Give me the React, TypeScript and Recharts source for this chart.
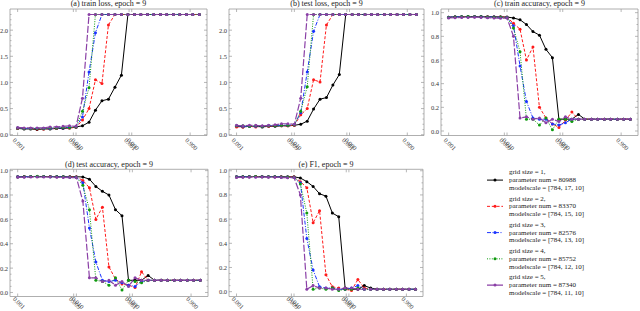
import React from "react";
import { LineChart, Line, XAxis, YAxis, ReferenceArea } from "recharts";

// learning-rate style x values (log spaced)
const xValues = [0.001, 0.00129, 0.00167, 0.00215, 0.00278, 0.00359, 0.00464, 0.00599, 0.00774, 0.01, 0.0129, 0.0167, 0.0215, 0.0278, 0.0359, 0.0464, 0.0599, 0.0774, 0.1, 0.129, 0.167, 0.215, 0.278, 0.359, 0.464, 0.599, 0.774, 1.0, 1.29];
const xTickValues = [0.001, 0.009, 0.01, 0.081, 0.09, 0.9];

const gridSizes = [1, 2, 3, 4, 5];
const paramNums = [80988, 83370, 82576, 85752, 87340];
const modelScales = ["[784, 17, 10]", "[784, 15, 10]", "[784, 13, 10]", "[784, 12, 10]", "[784, 11, 10]"];

const titles = ["(a) train loss, epoch = 9", "(b) test loss, epoch = 9", "(c) train accuracy, epoch = 9", "(d) test accuracy, epoch = 9", "(e) F1, epoch = 9"];

// (a) train loss
const trainLoss1 = [0.12, 0.11, 0.11, 0.10, 0.11, 0.11, 0.12, 0.12, 0.13, 0.15, 0.17, 0.24, 0.47, 0.65, 0.68, 0.91, 1.14, 2.30, 2.30, 2.30, 2.30, 2.30, 2.30, 2.30, 2.30, 2.30, 2.30, 2.30, 2.30];
const trainLoss2 = [0.12, 0.12, 0.12, 0.11, 0.11, 0.12, 0.12, 0.13, 0.13, 0.14, 0.28, 0.50, 1.05, 0.98, 2.10, 2.30, 2.30, 2.30, 2.30, 2.30, 2.30, 2.30, 2.30, 2.30, 2.30, 2.30, 2.30, 2.30, 2.30];
const trainLoss3 = [0.13, 0.12, 0.12, 0.12, 0.12, 0.12, 0.13, 0.13, 0.14, 0.15, 0.34, 1.20, 1.95, 2.30, 2.30, 2.30, 2.30, 2.30, 2.30, 2.30, 2.30, 2.30, 2.30, 2.30, 2.30, 2.30, 2.30, 2.30, 2.30];
const trainLoss4 = [0.13, 0.12, 0.12, 0.12, 0.12, 0.13, 0.13, 0.14, 0.14, 0.15, 0.45, 0.90, 2.30, 2.30, 2.30, 2.30, 2.30, 2.30, 2.30, 2.30, 2.30, 2.30, 2.30, 2.30, 2.30, 2.30, 2.30, 2.30, 2.30];
const trainLoss5 = [0.14, 0.13, 0.13, 0.13, 0.13, 0.15, 0.15, 0.16, 0.17, 0.16, 0.70, 2.30, 2.30, 2.30, 2.30, 2.30, 2.30, 2.30, 2.30, 2.30, 2.30, 2.30, 2.30, 2.30, 2.30, 2.30, 2.30, 2.30, 2.30];

// (b) test loss
const testLoss1 = [0.16, 0.15, 0.16, 0.16, 0.15, 0.16, 0.16, 0.17, 0.17, 0.18, 0.20, 0.26, 0.49, 0.68, 0.71, 0.95, 1.15, 2.30, 2.30, 2.30, 2.30, 2.30, 2.30, 2.30, 2.30, 2.30, 2.30, 2.30, 2.30];
const testLoss2 = [0.15, 0.15, 0.16, 0.15, 0.16, 0.16, 0.17, 0.17, 0.17, 0.18, 0.38, 0.50, 1.05, 1.01, 2.10, 2.30, 2.30, 2.30, 2.30, 2.30, 2.30, 2.30, 2.30, 2.30, 2.30, 2.30, 2.30, 2.30, 2.30];
const testLoss3 = [0.17, 0.16, 0.16, 0.16, 0.16, 0.17, 0.17, 0.18, 0.18, 0.19, 0.42, 1.20, 1.98, 2.30, 2.30, 2.30, 2.30, 2.30, 2.30, 2.30, 2.30, 2.30, 2.30, 2.30, 2.30, 2.30, 2.30, 2.30, 2.30];
const testLoss4 = [0.17, 0.17, 0.16, 0.17, 0.16, 0.17, 0.17, 0.18, 0.18, 0.19, 0.45, 0.92, 2.30, 2.30, 2.30, 2.30, 2.30, 2.30, 2.30, 2.30, 2.30, 2.30, 2.30, 2.30, 2.30, 2.30, 2.30, 2.30, 2.30];
const testLoss5 = [0.18, 0.17, 0.18, 0.18, 0.17, 0.18, 0.19, 0.21, 0.21, 0.20, 0.70, 2.30, 2.30, 2.30, 2.30, 2.30, 2.30, 2.30, 2.30, 2.30, 2.30, 2.30, 2.30, 2.30, 2.30, 2.30, 2.30, 2.30, 2.30];

// (c) train accuracy
const trainAcc1 = [0.962, 0.965, 0.966, 0.967, 0.967, 0.967, 0.966, 0.965, 0.965, 0.963, 0.955, 0.94, 0.90, 0.84, 0.81, 0.69, 0.62, 0.10, 0.10, 0.10, 0.14, 0.10, 0.10, 0.10, 0.10, 0.10, 0.10, 0.10, 0.10];
const trainAcc2 = [0.962, 0.964, 0.965, 0.966, 0.966, 0.966, 0.965, 0.964, 0.963, 0.962, 0.91, 0.86, 0.60, 0.71, 0.20, 0.11, 0.06, 0.03, 0.09, 0.16, 0.10, 0.10, 0.10, 0.10, 0.10, 0.10, 0.10, 0.10, 0.10];
const trainAcc3 = [0.962, 0.964, 0.965, 0.965, 0.966, 0.965, 0.964, 0.963, 0.962, 0.960, 0.89, 0.55, 0.25, 0.11, 0.10, 0.10, 0.06, 0.05, 0.07, 0.10, 0.10, 0.10, 0.10, 0.10, 0.10, 0.10, 0.10, 0.10, 0.10];
const trainAcc4 = [0.960, 0.963, 0.965, 0.968, 0.966, 0.965, 0.964, 0.962, 0.961, 0.958, 0.87, 0.67, 0.10, 0.10, 0.05, 0.11, 0.01, 0.10, 0.10, 0.08, 0.10, 0.10, 0.10, 0.10, 0.10, 0.10, 0.10, 0.10, 0.10];
const trainAcc5 = [0.955, 0.958, 0.960, 0.960, 0.962, 0.960, 0.958, 0.955, 0.952, 0.955, 0.80, 0.11, 0.12, 0.10, 0.11, 0.07, 0.10, 0.08, 0.12, 0.10, 0.10, 0.10, 0.10, 0.10, 0.10, 0.10, 0.10, 0.10, 0.10];

// (d) test accuracy
const testAcc1 = [0.950, 0.951, 0.952, 0.952, 0.952, 0.951, 0.951, 0.950, 0.950, 0.950, 0.948, 0.93, 0.87, 0.83, 0.80, 0.68, 0.63, 0.10, 0.10, 0.10, 0.14, 0.10, 0.10, 0.10, 0.10, 0.10, 0.10, 0.10, 0.10];
const testAcc2 = [0.950, 0.951, 0.951, 0.952, 0.951, 0.951, 0.950, 0.950, 0.949, 0.948, 0.92, 0.86, 0.60, 0.70, 0.21, 0.11, 0.07, 0.06, 0.04, 0.17, 0.10, 0.10, 0.10, 0.10, 0.10, 0.10, 0.10, 0.10, 0.10];
const testAcc3 = [0.950, 0.950, 0.951, 0.951, 0.951, 0.950, 0.950, 0.949, 0.948, 0.946, 0.90, 0.53, 0.25, 0.10, 0.09, 0.10, 0.08, 0.06, 0.05, 0.09, 0.10, 0.10, 0.10, 0.10, 0.10, 0.10, 0.10, 0.10, 0.10];
const testAcc4 = [0.948, 0.950, 0.951, 0.953, 0.951, 0.950, 0.950, 0.949, 0.948, 0.946, 0.88, 0.68, 0.10, 0.09, 0.06, 0.12, 0.02, 0.10, 0.09, 0.08, 0.10, 0.10, 0.10, 0.10, 0.10, 0.10, 0.10, 0.10, 0.10];
const testAcc5 = [0.945, 0.946, 0.947, 0.947, 0.948, 0.947, 0.946, 0.944, 0.943, 0.944, 0.75, 0.12, 0.12, 0.09, 0.10, 0.06, 0.09, 0.05, 0.12, 0.10, 0.10, 0.10, 0.10, 0.10, 0.10, 0.10, 0.10, 0.10, 0.10];

// (e) F1
const f1Score1 = [0.950, 0.951, 0.952, 0.952, 0.952, 0.951, 0.951, 0.950, 0.950, 0.950, 0.94, 0.91, 0.87, 0.81, 0.79, 0.65, 0.62, 0.03, 0.02, 0.02, 0.05, 0.03, 0.02, 0.02, 0.02, 0.02, 0.02, 0.02, 0.02];
const f1Score2 = [0.950, 0.951, 0.951, 0.952, 0.951, 0.951, 0.950, 0.950, 0.949, 0.948, 0.91, 0.86, 0.57, 0.67, 0.14, 0.04, 0.03, 0.02, 0.01, 0.10, 0.03, 0.02, 0.02, 0.02, 0.02, 0.02, 0.02, 0.02, 0.02];
const f1Score3 = [0.950, 0.950, 0.951, 0.951, 0.951, 0.950, 0.950, 0.949, 0.948, 0.946, 0.90, 0.44, 0.18, 0.04, 0.03, 0.03, 0.02, 0.02, 0.03, 0.05, 0.02, 0.02, 0.02, 0.02, 0.02, 0.02, 0.02, 0.02, 0.02];
const f1Score4 = [0.948, 0.950, 0.951, 0.953, 0.951, 0.950, 0.950, 0.949, 0.948, 0.946, 0.89, 0.65, 0.02, 0.03, 0.02, 0.03, 0.01, 0.02, 0.02, 0.03, 0.02, 0.02, 0.02, 0.02, 0.02, 0.02, 0.02, 0.02, 0.02];
const f1Score5 = [0.945, 0.946, 0.947, 0.947, 0.948, 0.947, 0.946, 0.944, 0.943, 0.944, 0.80, 0.02, 0.05, 0.03, 0.03, 0.02, 0.02, 0.03, 0.03, 0.02, 0.02, 0.02, 0.02, 0.02, 0.02, 0.02, 0.02, 0.02, 0.02];

const lossMajor = [0, 0.5, 1, 1.5, 2];
const lossMinor = [0.1, 0.2, 0.3, 0.4, 0.6, 0.7, 0.8, 0.9, 1.1, 1.2, 1.3, 1.4, 1.6, 1.7, 1.8, 1.9, 2.1, 2.2, 2.3];
const accMajor = [0, 0.2, 0.4, 0.6, 0.8, 1];
const accMinor = [0.05, 0.1, 0.15, 0.25, 0.3, 0.35, 0.45, 0.5, 0.55, 0.65, 0.7, 0.75, 0.85, 0.9, 0.95];

const colors = ["#000000", "#ff1a1a", "#1a33ff", "#0f9a0f", "#8a3fa6"];
const dashes = ["", "3 1.8", "4 1.5 1 1.5", "1 1.4", "7 2"];

const FONT = "'Liberation Serif', 'Times New Roman', serif";
const xDomain: [number, number] = [0.00074, 1.75];
const FRAME = "#9a9a9a";

type PanelProps = {
  cx: number; cy: number; W: number; H: number;
  pl: number; pt: number; pw: number; ph: number;
  title: string; titleY: number; labelOffset: number;
  series: number[][];
  yDomain: [number, number];
  yMajor: number[]; yMinor: number[];
};

function Panel(p: PanelProps) {
  const data = xValues.map((x, i) => {
    const row: any = { x };
    p.series.forEach((s, k) => { row["s" + k] = s[i]; });
    return row;
  });
  const base = p.pt + p.ph;
  const XTick = (props: any) => {
    const { x, payload } = props;
    const ly = base + p.labelOffset;
    const lx = x + 1.5;
    return (
      <g>
        <line x1={x} x2={x} y1={base} y2={base - 3} stroke={FRAME} strokeWidth={0.7} />
        <line x1={x} x2={x} y1={p.pt} y2={p.pt + 3} stroke={FRAME} strokeWidth={0.7} />
        <text x={lx} y={ly} textAnchor="middle" dominantBaseline="central" transform={`rotate(45 ${lx} ${ly})`} fontSize={6.3} fontFamily={FONT} fill="#333">
          {Number(payload.value).toFixed(3)}
        </text>
      </g>
    );
  };
  const YTick = (props: any) => {
    const { y, payload } = props;
    const v = payload.value;
    const major = p.yMajor.includes(v);
    const len = major ? 3 : 1.5;
    const r = p.pl + p.pw;
    return (
      <g>
        <line x1={p.pl} x2={p.pl + len} y1={y} y2={y} stroke={FRAME} strokeWidth={0.7} />
        <line x1={r} x2={r - len} y1={y} y2={y} stroke={FRAME} strokeWidth={0.7} />
        {major && (
          <text x={p.pl - 2} y={y} textAnchor="end" dominantBaseline="central" fontSize={6.5} fontFamily={FONT} fill="#333">
            {Number(v).toFixed(1)}
          </text>
        )}
      </g>
    );
  };
  return (
    <div style={{ position: "absolute", left: p.cx, top: p.cy, width: p.W, height: p.H }}>
      <LineChart width={p.W} height={p.H} data={data} margin={{ top: p.pt, right: p.W - p.pl - p.pw, bottom: 0, left: 0 }}>
        <XAxis dataKey="x" type="number" scale="log" domain={xDomain} allowDataOverflow ticks={xTickValues} interval={0}
          height={p.H - p.pt - p.ph} axisLine={false} tickLine={false} tick={XTick} />
        <YAxis type="number" domain={p.yDomain} allowDataOverflow ticks={[...p.yMajor, ...p.yMinor]} interval={0}
          width={p.pl} axisLine={false} tickLine={false} tick={YTick} />
        <ReferenceArea x1={xDomain[0]} x2={xDomain[1]} y1={p.yDomain[0]} y2={p.yDomain[1]} fill="none" fillOpacity={0}
          stroke={FRAME} strokeWidth={0.8} ifOverflow="visible" />
        {p.series.map((_, k) => (
          <Line key={k} type="linear" dataKey={"s" + k} stroke={colors[k]} strokeWidth={k === 4 ? 1.2 : 1}
            strokeDasharray={dashes[k] || undefined} isAnimationActive={false}
            dot={(d: any) => <circle key={"d" + k + "-" + d.index} cx={d.cx} cy={d.cy} r={1.5} fill={colors[k]} />}
            activeDot={false} />
        ))}
      </LineChart>
      <div style={{ position: "absolute", left: p.pl, top: p.titleY - p.cy - 5, width: p.pw, height: 10, lineHeight: "10px",
        textAlign: "center", fontFamily: FONT, fontSize: 8, color: "#222", whiteSpace: "nowrap" }}>
        {p.title}
      </div>
    </div>
  );
}

function LegendBox() {
  const ox = 480, oy = 160;
  const lh = 7.8;
  return (
    <svg width={160} height={151} style={{ position: "absolute", left: ox, top: oy }}>
      {gridSizes.map((g, k) => {
        const y0 = 172.3 + 26.25 * k - oy;
        const lines = [`grid size = ${g},`, `parameter num = ${paramNums[k]}`, `modelscale = ${modelScales[k]}`];
        return (
          <g key={k}>
            <line x1={7} x2={23} y1={y0 + lh} y2={y0 + lh} stroke={colors[k]} strokeWidth={k === 4 ? 1.2 : 1}
              strokeDasharray={dashes[k] || undefined} />
            <circle cx={15} cy={y0 + lh} r={1.5} fill={colors[k]} />
            {lines.map((t, j) => (
              <text key={j} x={29} y={y0 + lh * j} dominantBaseline="central" fontSize={7} fontFamily={FONT} fill="#222">{t}</text>
            ))}
          </g>
        );
      })}
    </svg>
  );
}

export default function App() {
  return (
    <div style={{ position: "absolute", left: 0, top: 0, width: 640, height: 311, background: "#fff", overflow: "hidden" }}>
      <Panel cx={0} cy={0} W={218} H={160} pl={10} pt={9} pw={197} ph={126.5} title={titles[0]} titleY={4} labelOffset={8.5}
        series={[trainLoss1, trainLoss2, trainLoss3, trainLoss4, trainLoss5]} yDomain={[-0.015, 2.405]} yMajor={lossMajor} yMinor={lossMinor} />
      <Panel cx={212} cy={0} W={218} H={160} pl={17} pt={9} pw={195} ph={126.5} title={titles[1]} titleY={4} labelOffset={8.5}
        series={[testLoss1, testLoss2, testLoss3, testLoss4, testLoss5]} yDomain={[-0.015, 2.405]} yMajor={lossMajor} yMinor={lossMinor} />
      <Panel cx={425} cy={0} W={215} H={160} pl={16} pt={9} pw={197} ph={126.5} title={titles[2]} titleY={4} labelOffset={8.5}
        series={[trainAcc1, trainAcc2, trainAcc3, trainAcc4, trainAcc5]} yDomain={[-0.038, 1.031]} yMajor={accMajor} yMinor={accMinor} />
      <Panel cx={0} cy={160} W={218} H={151} pl={10} pt={9.3} pw={198} ph={127.2} title={titles[3]} titleY={165} labelOffset={6.2}
        series={[testAcc1, testAcc2, testAcc3, testAcc4, testAcc5]} yDomain={[-0.033, 1.011]} yMajor={accMajor} yMinor={accMinor} />
      <Panel cx={212} cy={160} W={218} H={151} pl={17} pt={9.3} pw={194} ph={127.2} title={titles[4]} titleY={165} labelOffset={6.2}
        series={[f1Score1, f1Score2, f1Score3, f1Score4, f1Score5]} yDomain={[-0.04, 1.012]} yMajor={accMajor} yMinor={accMinor} />
      <LegendBox />
    </div>
  );
}
